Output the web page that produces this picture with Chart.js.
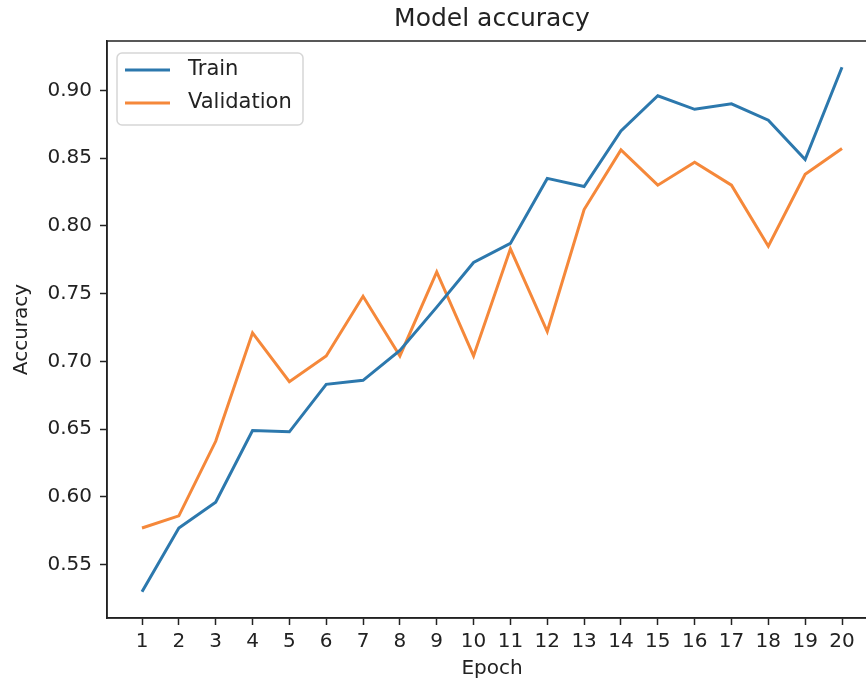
<!DOCTYPE html>
<html>
<head>
<meta charset="utf-8">
<script src="https://cdn.jsdelivr.net/npm/chart.js@4.4.1/dist/chart.umd.min.js"></script>
<style>
  html, body { margin: 0; padding: 0; background: #fff; overflow: hidden; }
</style>
</head>
<body>
<canvas id="myChart" width="880" height="684"></canvas>
<script>
const epochs = [1,2,3,4,5,6,7,8,9,10,11,12,13,14,15,16,17,18,19,20];
const trainAcc = [0.530,0.577,0.596,0.649,0.648,0.683,0.686,0.708,0.740,0.773,0.787,0.835,0.829,0.870,0.896,0.886,0.890,0.878,0.849,0.917];
const valAcc = [0.577,0.586,0.641,0.721,0.685,0.704,0.748,0.704,0.766,0.704,0.783,0.722,0.812,0.856,0.830,0.847,0.830,0.785,0.838,0.857];
const yTicks = [0.55,0.60,0.65,0.70,0.75,0.80,0.85,0.90];

const ink = '#222';
const font = 'DejaVu Sans';

// full box around the plot (matplotlib spines)
const frame = {
    id: 'frame',
    afterDatasetsDraw(chart){
        const {ctx, chartArea: a} = chart;
        ctx.save();
        ctx.strokeStyle = ink;
        ctx.lineWidth = 1.5;
        ctx.strokeRect(a.left, a.top, a.right - a.left, a.bottom - a.top);
        ctx.restore();
    }
};

// legend box in the upper left corner
const boxLegend = {
    id: 'boxLegend',
    afterDraw(chart){
        const {ctx, chartArea: a} = chart;
        const x = a.left + 10, y = a.top + 12, w = 186, h = 72;
        ctx.save();
        ctx.fillStyle = 'rgba(255,255,255,0.8)';
        ctx.strokeStyle = '#d6d6d6';
        ctx.lineWidth = 1.5;
        ctx.beginPath();
        ctx.roundRect(x, y, w, h, 5);
        ctx.fill();
        ctx.stroke();
        chart.data.datasets.forEach((ds, i) => {
            const ly = y + 17 + i * 33;
            ctx.strokeStyle = ds.borderColor;
            ctx.lineWidth = 3;
            ctx.beginPath();
            ctx.moveTo(x + 8, ly);
            ctx.lineTo(x + 53, ly);
            ctx.stroke();
            ctx.fillStyle = ink;
            ctx.font = '21px "' + font + '"';
            ctx.textBaseline = 'middle';
            ctx.fillText(ds.label, x + 71, ly);
        });
        ctx.restore();
    }
};

let myChart = document.querySelector('#myChart').getContext('2d');

let chart = new Chart(myChart, {
    type: 'line',
    data: {
        datasets: [{
            label: 'Train',
            data: epochs.map((e, i) => ({x: e, y: trainAcc[i]})),
            borderColor: '#2c78ad',
            borderWidth: 3,
            pointRadius: 0,
            tension: 0
        }, {
            label: 'Validation',
            data: epochs.map((e, i) => ({x: e, y: valAcc[i]})),
            borderColor: '#f5883a',
            borderWidth: 3,
            pointRadius: 0,
            tension: 0
        }]
    },
    options: {
        responsive: false,
        devicePixelRatio: 1,
        animation: false,
        layout: { padding: { left: 0, right: 3, top: 0, bottom: 0 } },
        plugins: {
            legend: { display: false },
            tooltip: { enabled: false },
            title: { display: false }
        },
        scales: {
            // top axis only carries the title, so it is centred over the plot
            top: {
                type: 'linear',
                position: 'top',
                min: 0.05,
                max: 20.95,
                afterFit: (s) => { s.height = 41; },
                grid: { display: false },
                border: { display: false },
                ticks: { display: false },
                title: { display: true, text: 'Model accuracy', color: ink, font: { family: font, size: 25 }, padding: { top: 4, bottom: 0 } }
            },
            x: {
                type: 'linear',
                min: 0.05,
                max: 20.95,
                afterBuildTicks: (s) => { s.ticks = epochs.map(v => ({value: v})); },
                afterFit: (s) => { s.height = 66; },
                grid: { drawOnChartArea: false, drawTicks: true, tickLength: 7, tickColor: ink, tickWidth: 1.5 },
                border: { display: true, color: ink, width: 1.5 },
                ticks: { color: ink, font: { family: font, size: 20 }, padding: 5, maxRotation: 0, autoSkip: false },
                title: { display: true, text: 'Epoch', color: ink, font: { family: font, size: 20 }, padding: { top: 0, bottom: 3 } }
            },
            y: {
                min: 0.5106,
                max: 0.9364,
                afterBuildTicks: (s) => { s.ticks = yTicks.map(v => ({value: v})); },
                afterFit: (s) => { s.width = 107; },
                grid: { drawOnChartArea: false, drawTicks: true, tickLength: 7, tickColor: ink, tickWidth: 1.5 },
                border: { display: true, color: ink, width: 1.5 },
                ticks: { color: ink, font: { family: font, size: 20 }, padding: 8, callback: (v) => v.toFixed(2) },
                title: { display: true, text: 'Accuracy', color: ink, font: { family: font, size: 20 }, padding: { top: 10, bottom: 0 } }
            }
        }
    },
    plugins: [frame, boxLegend]
});
</script>
</body>
</html>
